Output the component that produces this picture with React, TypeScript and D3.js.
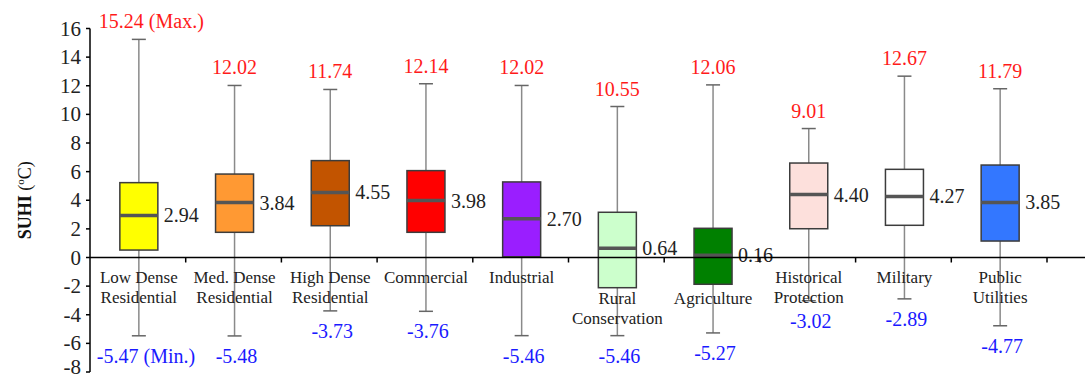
import React from "react"
import * as d3 from "d3"

// categories (label lines) and box statistics
const categories: string[][] = [
	["Low Dense", "Residential"],
	["Med. Dense", "Residential"],
	["High Dense", "Residential"],
	["Commercial"],
	["Industrial"],
	["Rural", "Conservation"],
	["Agriculture"],
	["Historical", "Protection"],
	["Military"],
	["Public", "Utilities"],
]
const maxValues = [15.24, 12.02, 11.74, 12.14, 12.02, 10.55, 12.06, 9.01, 12.67, 11.79]
const q3Values = [5.23, 5.83, 6.77, 6.07, 5.28, 3.16, 2.04, 6.6, 6.16, 6.46]
const medianValues = [2.94, 3.84, 4.55, 3.98, 2.7, 0.64, 0.16, 4.4, 4.27, 3.85]
const q1Values = [0.52, 1.76, 2.22, 1.76, 0.05, -2.11, -1.87, 2.01, 2.25, 1.15]
const minValues = [-5.47, -5.48, -3.73, -3.76, -5.46, -5.46, -5.27, -3.02, -2.89, -4.77]
const fills = ["#ffff00", "#ff9933", "#c25400", "#ff0000", "#9a1eff", "#ccffcc", "#008000", "#fde0dc", "#ffffff", "#3377ff"]
// label rows: 0 = just below axis, 1 = one row lower (Rural Conservation, Agriculture)
const labelRow = [0, 0, 0, 0, 0, 1, 1, 0, 0, 0]
const yTicks = [-8, -6, -4, -2, 0, 2, 4, 6, 8, 10, 12, 14, 16]

const width = 1085
const height = 378
const font = '"Liberation Serif", "DejaVu Serif", "Times New Roman", serif'

export default function App() {
	const keys = categories.map((c) => c.join(" "))
	const x = d3.scaleBand<string>().domain(keys).range([90, 1047]).paddingInner(0)
	const y = d3.scaleLinear().domain([-8, 16]).range([372, 28.5])
	const boxW = 38
	const cx = (i: number) => (x(keys[i]) as number) + x.bandwidth() / 2 + 1

	return (
		<svg
			width={width}
			height={height}
			style={{ position: "absolute", left: 0, top: 0, background: "#fff", fontFamily: font }}>
			{/* boxes */}
			{keys.map((k, i) => {
				const c = cx(i)
				return (
					<g key={k}>
						<line x1={c} x2={c} y1={y(maxValues[i])} y2={y(minValues[i])} stroke="#8a8a8a" strokeWidth={1.5} />
						<line x1={c - 7} x2={c + 7} y1={y(maxValues[i])} y2={y(maxValues[i])} stroke="#666" strokeWidth={1.5} />
						<line x1={c - 7} x2={c + 7} y1={y(minValues[i])} y2={y(minValues[i])} stroke="#666" strokeWidth={1.5} />
						<rect
							x={c - boxW / 2}
							y={y(q3Values[i])}
							width={boxW}
							height={y(q1Values[i]) - y(q3Values[i])}
							fill={fills[i]}
							stroke="#3c3c3c"
							strokeWidth={1.5}
						/>
						<line x1={c - boxW / 2} x2={c + boxW / 2} y1={y(medianValues[i])} y2={y(medianValues[i])} stroke="#555" strokeWidth={3.5} />
						<text x={c + boxW / 2 + 6} y={y(medianValues[i]) + 7} fontSize={20} fill="#222">
							{medianValues[i].toFixed(2)}
						</text>
						<text
							x={i === 0 ? c - 40 : c}
							y={y(maxValues[i]) - 11}
							fontSize={20}
							fill="#ff1a1a"
							textAnchor={i === 0 ? "start" : "middle"}>
							{maxValues[i].toFixed(2) + (i === 0 ? " (Max.)" : "")}
						</text>
						<text
							x={i === 0 ? c - 42 : c + 2}
							y={y(minValues[i]) + 27}
							fontSize={20}
							fill="#1a1aff"
							textAnchor={i === 0 ? "start" : "middle"}>
							{minValues[i].toFixed(2) + (i === 0 ? " (Min.)" : "")}
						</text>
					</g>
				)
			})}

			{/* category labels */}
			{categories.map((lines, i) => (
				<text key={i} x={cx(i)} fontSize={17} fill="#222" textAnchor="middle">
					{lines.map((ln, j) => (
						<tspan key={j} x={cx(i)} y={y(0) + 25 + labelRow[i] * 21 + j * 20}>
							{ln}
						</tspan>
					))}
				</text>
			))}

			{/* x axis */}
			<line x1={90} x2={1085} y1={y(0)} y2={y(0)} stroke="#000" strokeWidth={1.5} />
			{keys.map((k, i) => {
				const tx = (x(k) as number) + x.bandwidth()
				return <line key={i} x1={tx} x2={tx} y1={y(0)} y2={y(0) + 5} stroke="#000" strokeWidth={1.5} />
			})}

			{/* y axis */}
			<line x1={90} x2={90} y1={y(16)} y2={y(-8)} stroke="#000" strokeWidth={1.5} />
			{yTicks.map((t) => (
				<g key={t}>
					<line x1={86} x2={90} y1={y(t)} y2={y(t)} stroke="#000" strokeWidth={1.5} />
					<text x={81} y={y(t) + (t === -8 ? 2 : 7)} fontSize={21} textAnchor="end" fill="#222">
						{t}
					</text>
				</g>
			))}
			<text transform={`translate(31,${y(4)}) rotate(-90)`} textAnchor="middle" fontSize={18} fill="#111">
				<tspan fontWeight="bold">SUHI</tspan>
				<tspan> (</tspan>
				<tspan fontSize={11} dy={-7}>o</tspan>
				<tspan dy={7}>C)</tspan>
			</text>
		</svg>
	)
}
